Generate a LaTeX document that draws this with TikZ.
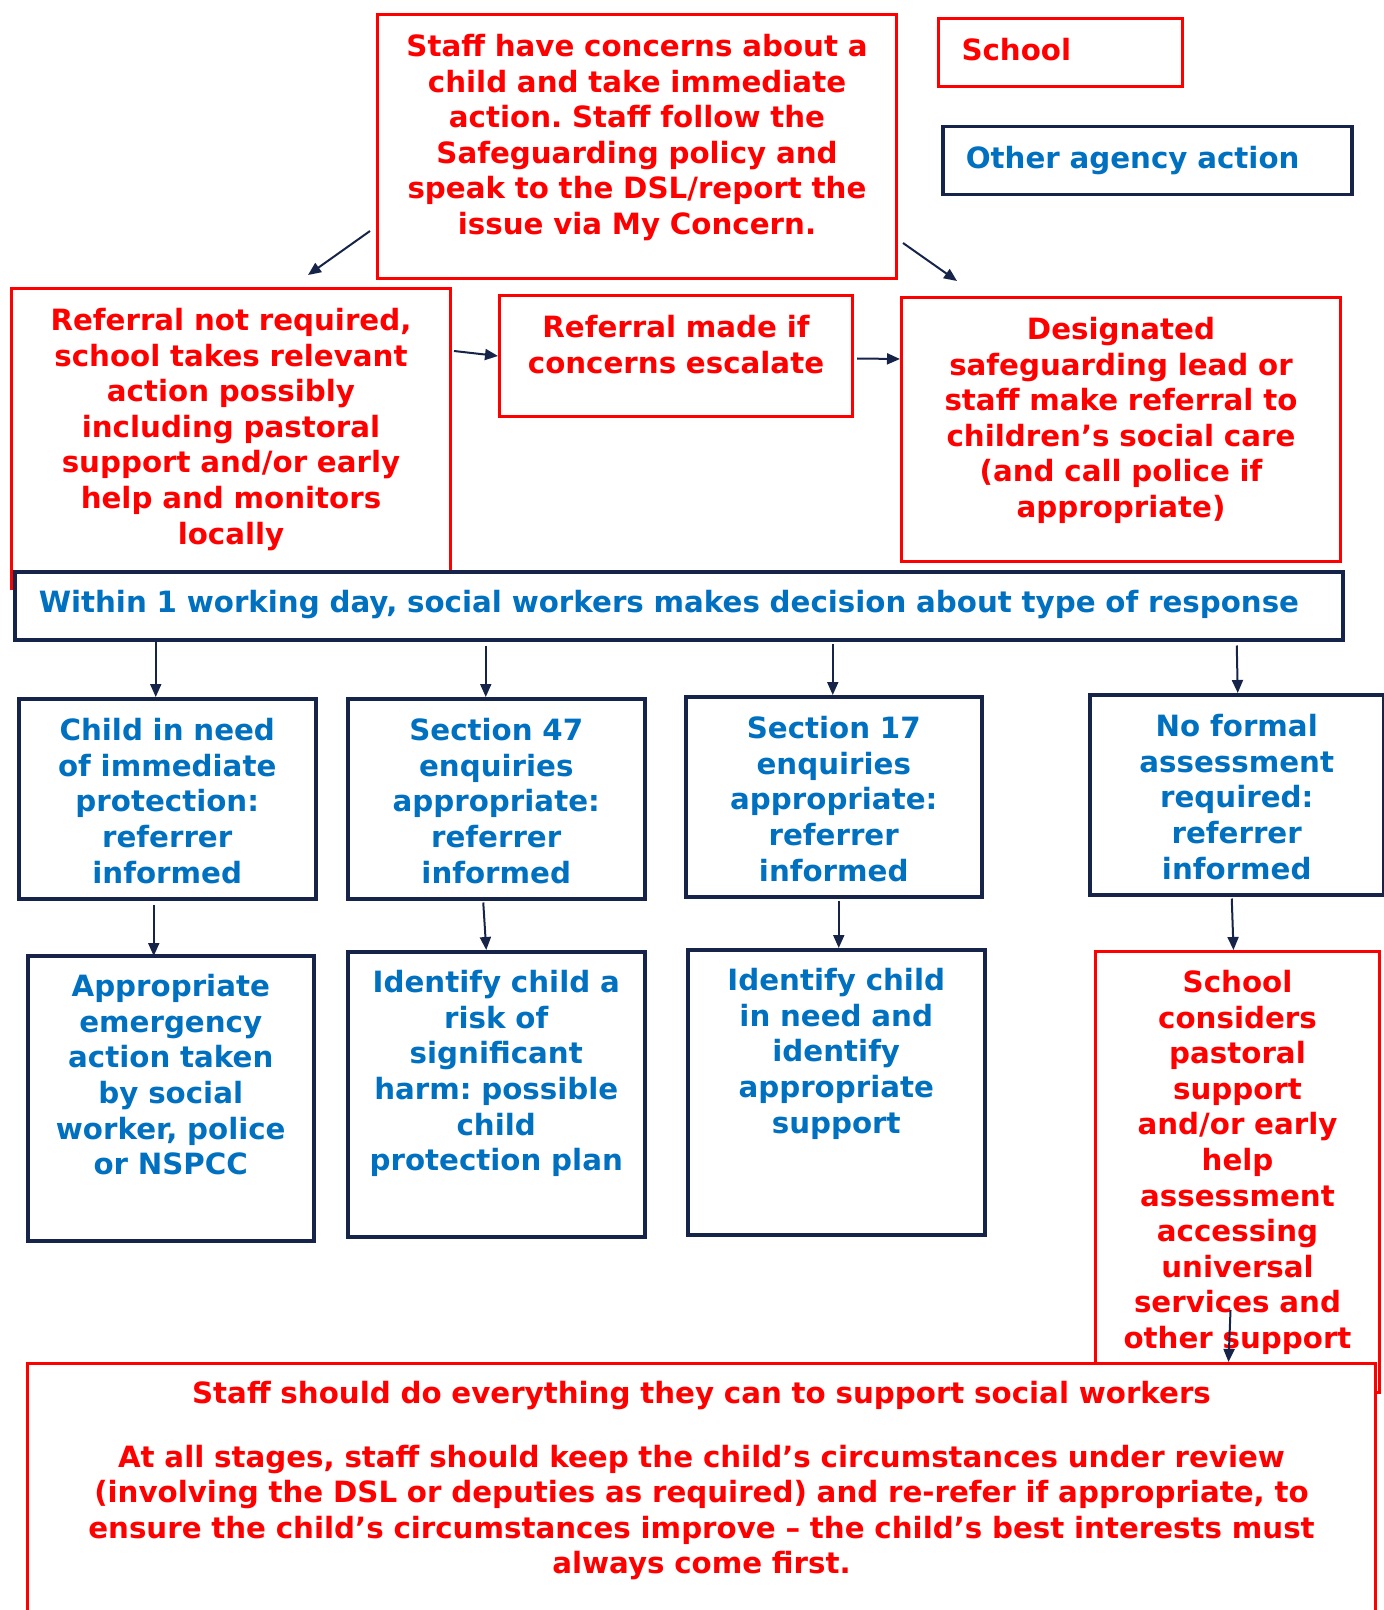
\documentclass[tikz,border=0pt]{standalone}
\usepackage{fontspec}
\setmainfont{DejaVu Sans}
\usetikzlibrary{arrows.meta, positioning, calc}

\definecolor{sred}{RGB}{255,0,0}
\definecolor{sblue}{RGB}{0,112,192}
\definecolor{navy}{RGB}{23,36,74}

\begin{document}
\frenchspacing
\begin{tikzpicture}[x=0.5pt, y=-0.5pt,
        font=\fontsize{14.65}{17.8}\selectfont\bfseries,
        box/.style={anchor=north west, inner sep=0pt, align=center, text height=21pt},
        redbox/.style={box, draw=sred, line width=1.5pt, text=sred, fill=white},
        bluebox/.style={box, draw=navy, line width=1.75pt, text=sblue, fill=white},
        arr/.style={draw=navy, line width=1pt, -{Triangle[length=6.5pt, width=5.5pt]}}]

      \clip (0,0) rectangle (1384,1610);

      % 1. Key (top right)
      \node [redbox, align=left, inner xsep=11.5pt, text width=99pt, text depth=13pt] (keyschool) at (937,17) {School};
      \node [bluebox, align=left, inner xsep=11.5pt, text width=181.5pt, text depth=13pt] (keyagency) at (941,125) {Other agency action};

      % 2. School action
      \node [redbox, text width=259.5pt, text depth=111pt] (concern) at (376,13) {Staff have concerns about a\\child and take immediate\\action. Staff follow the\\Safeguarding policy and\\speak to the DSL/report the\\issue via My Concern.};

      \node [redbox, text width=219.5pt, text depth=129pt] (noref) at (10,287) {Referral not required,\\school takes relevant\\action possibly\\including pastoral\\support and/or early\\help and monitors\\locally};
      \node [redbox, text width=176.5pt, text depth=39.5pt] (escalate) at (498,294) {Referral made if\\concerns escalate};
      \node [redbox, text width=219.5pt, text depth=111pt] (dsl) at (900,296) {Designated\\safeguarding lead or\\staff make referral to\\children’s social care\\(and call police if\\appropriate)};

      % 3. Social care decision
      \node [bluebox, align=left, inner xsep=12pt, text width=640pt, text height=20.5pt, text depth=13.5pt] (decision) at (13,570) {Within 1 working day, social workers makes decision about type of response};

      \node [bluebox, text width=148.5pt, text depth=79pt] (protect) at (17,697) {Child in need\\of immediate\\protection:\\referrer\\informed};
      \node [bluebox, text width=148.5pt, text depth=79pt] (sfortyseven) at (346,697) {Section 47\\enquiries\\appropriate:\\referrer\\informed};
      \node [bluebox, text width=148pt, text depth=79pt] (sseventeen) at (684,695) {Section 17\\enquiries\\appropriate:\\referrer\\informed};
      \node [bluebox, text width=147pt, text depth=79pt] (noformal) at (1088,693) {No formal\\assessment\\required:\\referrer\\informed};

      \node [bluebox, text width=143pt, text depth=122pt, text height=20.5pt] (emergency) at (26,954) {Appropriate\\emergency\\action taken\\by social\\worker, police\\or NSPCC};
      \node [bluebox, text width=148.5pt, text depth=122pt, text height=20.5pt] (harm) at (346,950) {Identify child a\\risk of\\significant\\harm: possible\\child\\protection plan};
      \node [bluebox, text width=148.5pt, text depth=122pt, text height=20.5pt] (inneed) at (686,948) {Identify child\\in need and\\identify\\appropriate\\support};
      \node [redbox, text width=142pt, text depth=200pt, text height=20.5pt] (pastoral) at (1094,950) {School\\considers\\pastoral\\support\\and/or early\\help\\assessment\\accessing\\universal\\services and\\other support};

      % 4. Review (bottom)
      \node [redbox, text width=674pt, text height=20pt, text depth=119pt] (review) at (26,1362) {Staff should do everything they can to support social workers\\[14pt]At all stages, staff should keep the child’s circumstances under review\\(involving the DSL or deputies as required) and re-refer if appropriate, to\\ensure the child’s circumstances improve – the child’s best interests must\\always come first.};

      % 5. Arrows
      \draw [arr] ([shift={(-6,-49)}]concern.south west) -- ([shift={(298,-12)}]noref.north west);
      \draw [arr] ([shift={(5,-37)}]concern.south east) -- ([shift={(57,-15)}]dsl.north west);
      \draw [arr] ([shift={(2,64)}]noref.north east) -- (escalate.west);
      \draw [arr] ([shift={(3,2.5)}]escalate.east) -- ([shift={(0,63)}]dsl.north west);

      \draw [arr] ([shift={(-11.5,0)}]protect.north |- decision.south) -- ([shift={(-11.5,0)}]protect.north);
      \draw [arr] ([shift={(-10.5,4)}]sfortyseven.north |- decision.south) -- ([shift={(-10.5,0)}]sfortyseven.north);
      \draw [arr] ([shift={(-1,2)}]sseventeen.north |- decision.south) -- ([shift={(-1,0)}]sseventeen.north);
      \draw [arr] ([shift={(0,4)}]noformal.north |- decision.south) -- ([shift={(1,0)}]noformal.north);

      \draw [arr] ([shift={(-17,4)}]protect.south -| emergency.north) -- ([shift={(-17,2)}]emergency.north);
      \draw [arr] ([shift={(-13,2)}]sfortyseven.south) -- ([shift={(-10,0)}]harm.north);
      \draw [arr] ([shift={(2.5,2)}]sseventeen.south -| inneed.north) -- ([shift={(2.5,0)}]inneed.north);
      \draw [arr] ([shift={(-5,2)}]noformal.south) -- ([shift={(-4,0)}]pastoral.north);
      \draw [arr] ([shift={(-7,-84)}]pastoral.south) -- ([shift={(-9,0)}]review.north -| pastoral.south);
    \end{tikzpicture}
\end{document}
